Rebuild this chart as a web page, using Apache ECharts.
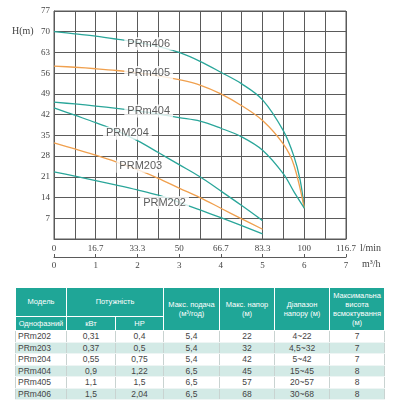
<!DOCTYPE html>
<html>
<head>
<meta charset="utf-8">
<script src="https://cdn.jsdelivr.net/npm/echarts@6/dist/echarts.min.js"></script>
<style>
  html, body { margin:0; padding:0; background:#fff; }
  #chart { position:absolute; left:0; top:0; width:400px; height:285px; }
  #spec { position:absolute; left:15px; top:287px; width:369px; border-collapse:collapse; table-layout:fixed;
          font-family:'Liberation Sans', Arial, sans-serif; }
  #spec th { background:#1fa697; color:#fff; font-weight:normal; font-size:7.5px; line-height:9.2px; padding:0;
             border:1px solid rgba(255,255,255,0.5); text-align:center; overflow:hidden; }
  #spec tr.h1 th { height:28px; }
  #spec tr.h2 th { height:13px; }
  #spec td { font-size:8.5px; height:10.5px; line-height:10.5px; padding:0; text-align:center; color:#444;
             border-left:1px solid #c9d3d1; border-right:1px solid #c9d3d1; border-bottom:1px solid #eef5f4; white-space:nowrap; }
  #spec td.model { text-align:left; padding-left:2px; }
  #spec tr.alt td { background:#d3eae6; }
</style>
</head>
<body>
<div id="chart"></div>
<table id="spec"></table>
<script>
// ---- axis tick labels ----
const flowLabelsLmin = ['0','16.7','33.3','50','66.7','83.3','100','116.7'];
const flowLabelsM3h  = ['0','1','2','3','4','5','6','7'];

// ---- curves: [Q m3/h, H m] ----
const prm406 = [[0,70],[0.5,69.3],[1,68.5],[1.5,67.5],[2,66.4],[2.5,65],[3,63],[3.5,60],[4,56.3],[4.5,52.4],[5,47],[5.5,36.5],[5.75,28],[5.9,20],[6,10.4]];
const prm405 = [[0,58.4],[0.5,58],[1,57.5],[1.5,56.9],[2,56.1],[2.5,55.1],[3,53.8],[3.5,52],[4,49],[4.5,45],[5,40],[5.5,32],[5.75,25],[6,10.4]];
const prm404 = [[0,46.2],[0.5,45.6],[1,44.9],[1.5,44.1],[2,43.2],[2.5,42.2],[3,41],[3.5,39.8],[4,37.4],[4.5,34.5],[5,30],[5.5,22],[5.75,16],[6,10.4]];
const prm204 = [[0,44.3],[0.5,41.8],[1,39.3],[1.5,36.6],[2,33.2],[2.5,29.2],[3,25.1],[3.5,21],[4,16.2],[4.5,11.3],[5,6.2]];
const prm203 = [[0,32.5],[0.5,30.4],[1,28.3],[1.5,26],[2,23.4],[2.5,20.5],[3,17.2],[3.5,14],[4,10.4],[4.5,6.8],[5,3.3]];
const prm202 = [[0,22.7],[0.5,21.2],[1,19.7],[1.5,18.2],[2,16.6],[2.5,14.8],[3,12.4],[3.5,9.8],[4,7.2],[4.5,4.5],[5,1.7]];

const curveNames  = ['PRm406','PRm405','PRm404','PRM204','PRM203','PRM202'];
const curveColors = ['#2aa69a','#f0a04e','#2aa69a','#2aa69a','#f0a04e','#2aa69a'];
const curveData   = [prm406, prm405, prm404, prm204, prm203, prm202];
// label anchor points on the curves [Q, H]
const labelAnchors = [[2.27,65.9],[2.27,56.2],[2.27,43.2],[1.76,35.7],[2.08,24.6],[2.65,12.3]];

// ---- table data ----
const tableModels   = ['PRm202','PRm203','PRm204','PRm404','PRm405','PRm406'];
const tablePowerKw  = ['0,31','0,37','0,55','0,9','1,1','1,5'];
const tablePowerHp  = ['0,4','0,5','0,75','1,22','1,5','2,04'];
const tableMaxFlow  = ['5,4','5,4','5,4','6,5','6,5','6,5'];
const tableMaxHead  = ['22','32','42','45','57','68'];
const tableRange    = ['4~22','4,5~32','5~42','15~45','20~57','30~68'];
const tableSuction  = ['7','7','7','8','8','8'];

const axisFont = { color:'#444', fontFamily:'Liberation Serif', fontSize:9 };
const gridColor = '#5a5a5a';

const chart = echarts.init(document.getElementById('chart'), null, { renderer:'canvas' });

const series = curveData.map((d, i) => ({
  type:'line', name:curveNames[i], data:d, xAxisIndex:0, yAxisIndex:0,
  symbol:'none', smooth:0.35, z:2,
  lineStyle:{ color:curveColors[i], width:1.3 }
}));
series.push({
  type:'scatter', xAxisIndex:0, yAxisIndex:0, symbolSize:0, z:10, silent:true,
  data: labelAnchors.map((p, i) => ({ value:p, name:curveNames[i] })),
  label:{ show:true, position:'inside', formatter:'{b}', backgroundColor:'#fff', padding:[1,3],
          color:'#333', fontSize:11, fontFamily:'Liberation Sans' }
});

chart.setOption({
  animation:false,
  grid:{ left:54, top:11, width:292, height:228, show:true, borderColor:gridColor, borderWidth:1, backgroundColor:'transparent' },
  xAxis:[
    { type:'value', min:0, max:7, interval:0.5, position:'bottom',
      axisLine:{ show:true, onZero:false, lineStyle:{ color:gridColor } },
      axisTick:{ show:false },
      splitLine:{ show:true, lineStyle:{ color:gridColor, width:1 } },
      axisLabel:Object.assign({ margin:5, showMaxLabel:true, showMinLabel:true,
        formatter:v => Number.isInteger(v) ? flowLabelsLmin[v] : '' }, axisFont) },
    { type:'value', min:0, max:7, interval:1, position:'bottom', offset:18,
      axisLine:{ show:true, onZero:false, lineStyle:{ color:gridColor } },
      axisTick:{ show:true, inside:true, length:3, lineStyle:{ color:gridColor } },
      splitLine:{ show:false },
      axisLabel:Object.assign({ margin:4, showMaxLabel:true, showMinLabel:true,
        formatter:v => flowLabelsM3h[v] }, axisFont) }
  ],
  yAxis:{ type:'value', min:0, max:77, interval:7,
    axisLine:{ show:true, onZero:false, lineStyle:{ color:gridColor } },
    axisTick:{ show:false },
    splitLine:{ show:true, lineStyle:{ color:gridColor, width:1 } },
    axisLabel:Object.assign({ margin:4, formatter:v => v === 0 ? '' : String(v) }, axisFont) },
  graphic:[
    { type:'text', style:{ text:'H(m)', x:12, y:31, verticalAlign:'middle', font:'10px "Liberation Serif"', fill:'#444' } },
    { type:'text', style:{ text:'l/min', x:360, y:248, verticalAlign:'middle', font:'10px "Liberation Serif"', fill:'#444' } },
    { type:'text', style:{ text:'m³/h', x:362, y:264, verticalAlign:'middle', font:'10px "Liberation Serif"', fill:'#444' } }
  ],
  series:series
});

// ---- table ----
const headRow1 = ['Модель','Потужність','Макс. подача<br>(м³/год)','Макс. напор<br>(м)','Діапазон<br>напору (м)','Максимальна<br>висота<br>всмоктування<br>(м)'];
const headRow2 = ['Однофазний','кВт','HP'];
const colWidths = [51,49,48,56,55,55,55];
let html = '<colgroup>' + colWidths.map(w => '<col style="width:' + w + 'px">').join('') + '</colgroup>';
html += '<tr class="h1"><th>' + headRow1[0] + '</th><th colspan="2">' + headRow1[1] + '</th>' +
        headRow1.slice(2).map(t => '<th rowspan="2">' + t + '</th>').join('') + '</tr>';
html += '<tr class="h2">' + headRow2.map(t => '<th>' + t + '</th>').join('') + '</tr>';
tableModels.forEach((m, i) => {
  html += '<tr class="' + (i % 2 ? 'alt' : '') + '"><td class="model">' + m + '</td><td>' + tablePowerKw[i] +
          '</td><td>' + tablePowerHp[i] + '</td><td>' + tableMaxFlow[i] + '</td><td>' + tableMaxHead[i] +
          '</td><td>' + tableRange[i] + '</td><td>' + tableSuction[i] + '</td></tr>';
});
document.getElementById('spec').innerHTML = html;
</script>
</body>
</html>
